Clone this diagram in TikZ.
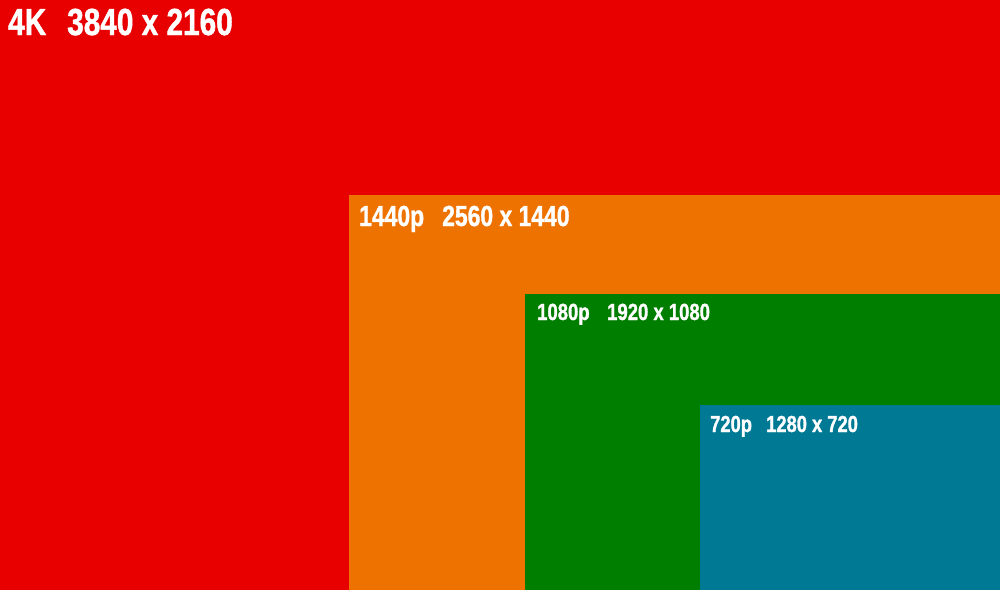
\documentclass[tikz,border=0pt]{standalone}
\usepackage{fontspec}
\newfontfamily\labfont[FakeStretch=0.79,FakeBold=1.2]{Liberation Sans Bold}
\definecolor{cred}{HTML}{E80000}
\definecolor{corange}{HTML}{EE7200}
\definecolor{cgreen}{HTML}{007E00}
\definecolor{cblue}{HTML}{007A94}
\tikzset{
  lab/.style={anchor=base west, inner sep=0pt, text=white},
}
\begin{document}
\begin{tikzpicture}[x=1pt,y=-1pt]
\useasboundingbox (0,0) rectangle (1000,590);
\fill[cred] (0,0) rectangle (1000,590);
\fill[corange] (349,195) rectangle (1000,590);
\fill[cgreen] (525,294) rectangle (1000,590);
\fill[cblue] (700,405) rectangle (1000,590);
\node[lab, font=\labfont\fontsize{37.7}{40}\selectfont] (k4a) at (8,35) {4K};
\node[lab, font=\labfont\fontsize{37.7}{40}\selectfont] (k4b) at (67,35) {3840 x 2160};
\node[lab, font=\labfont\fontsize{29}{32}\selectfont] (p14a) at (359,226) {1440p};
\node[lab, font=\labfont\fontsize{29}{32}\selectfont] (p14b) at (442,226) {2560 x 1440};
\node[lab, font=\labfont\fontsize{23.4}{27}\selectfont] (p10a) at (537,320) {1080p};
\node[lab, font=\labfont\fontsize{23.4}{27}\selectfont] (p10b) at (607,320) {1920 x 1080};
\node[lab, font=\labfont\fontsize{23.2}{27}\selectfont] (p7a) at (710,432) {720p};
\node[lab, font=\labfont\fontsize{23.2}{27}\selectfont] (p7b) at (766,432) {1280 x 720};
\end{tikzpicture}
\end{document}
